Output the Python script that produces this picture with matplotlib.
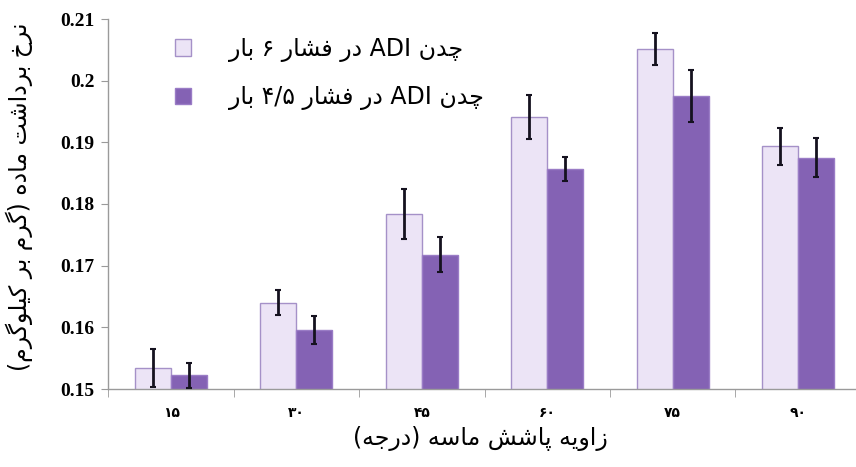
import numpy as np
import matplotlib.pyplot as plt
from matplotlib.patches import Patch

# angle categories (Persian digits) and measured rates
angles = ["۱۵", "۳۰", "۴۵", "۶۰", "۷۵", "۹۰"]
rate_6bar = [0.1534, 0.1640, 0.1784, 0.1941, 0.2052, 0.1894]
err_6bar = [0.0031, 0.0020, 0.0040, 0.0035, 0.0026, 0.0030]
rate_45bar = [0.1522, 0.1596, 0.1718, 0.1857, 0.1975, 0.1875]
err_45bar = [0.0020, 0.0023, 0.0028, 0.0020, 0.0042, 0.0032]
yticks = [0.15, 0.16, 0.17, 0.18, 0.19, 0.20, 0.21]

label_6bar = "چدن ADI در فشار ۶ بار"
label_45bar = "چدن ADI در فشار ۴/۵ بار"
ylabel = "نرخ برداشت ماده (گرم بر کیلوگرم)"
xlabel = "زاویه پاشش ماسه (درجه)"

# --- minimal Persian shaping (matplotlib has no bidi / shaping) ---
FORMS = {  # isolated, final, initial, medial
    "ا": (0xFE8D, 0xFE8E, None, None),
    "ب": (0xFE8F, 0xFE90, 0xFE91, 0xFE92),
    "پ": (0xFB56, 0xFB57, 0xFB58, 0xFB59),
    "ت": (0xFE95, 0xFE96, 0xFE97, 0xFE98),
    "ج": (0xFE9D, 0xFE9E, 0xFE9F, 0xFEA0),
    "چ": (0xFB7A, 0xFB7B, 0xFB7C, 0xFB7D),
    "خ": (0xFEA5, 0xFEA6, 0xFEA7, 0xFEA8),
    "د": (0xFEA9, 0xFEAA, None, None),
    "ر": (0xFEAD, 0xFEAE, None, None),
    "ز": (0xFEAF, 0xFEB0, None, None),
    "س": (0xFEB1, 0xFEB2, 0xFEB3, 0xFEB4),
    "ش": (0xFEB5, 0xFEB6, 0xFEB7, 0xFEB8),
    "ف": (0xFED1, 0xFED2, 0xFED3, 0xFED4),
    "ک": (0xFB8E, 0xFB8F, 0xFB90, 0xFB91),
    "گ": (0xFB92, 0xFB93, 0xFB94, 0xFB95),
    "ل": (0xFEDD, 0xFEDE, 0xFEDF, 0xFEE0),
    "م": (0xFEE1, 0xFEE2, 0xFEE3, 0xFEE4),
    "ن": (0xFEE5, 0xFEE6, 0xFEE7, 0xFEE8),
    "و": (0xFEED, 0xFEEE, None, None),
    "ه": (0xFEE9, 0xFEEA, 0xFEEB, 0xFEEC),
    "ی": (0xFBFC, 0xFBFD, 0xFBFE, 0xFBFF),
}
MIRROR = {"(": ")", ")": "("}


def shape_word(w):
    out = []
    for i, c in enumerate(w):
        if c not in FORMS:
            out.append(MIRROR.get(c, c))
            continue
        prev = w[i - 1] if i > 0 else None
        nxt = w[i + 1] if i + 1 < len(w) else None
        join_prev = prev in FORMS and FORMS[prev][2] is not None
        join_next = nxt in FORMS and FORMS[c][2] is not None
        f = FORMS[c]
        if join_prev and join_next:
            out.append(chr(f[3]))
        elif join_prev:
            out.append(chr(f[1]))
        elif join_next:
            out.append(chr(f[2]))
        else:
            out.append(chr(f[0]))
    return "".join(reversed(out))


def rtl(s):
    words = []
    for w in s.split(" "):
        if any(ch in FORMS for ch in w):
            words.append(shape_word(w))
        else:
            words.append(w)
    return " ".join(reversed(words))


ar_font = "DejaVu Sans"
light = "#ECE4F6"
light_edge = "#A591C8"
dark = "#8462B4"
dark_edge = "#9A7CC6"

fig = plt.figure(figsize=(8.56, 4.67), dpi=100)
ax = fig.add_axes([108.3 / 856, 1 - 389 / 467, 752.4 / 856, 370 / 467])

x = np.arange(len(angles))
w = 0.287
ax.bar(x - w / 2, rate_6bar, w, color=light, edgecolor=light_edge, linewidth=1.0, zorder=2)
ax.bar(x + w / 2, rate_45bar, w, color=dark, edgecolor=dark_edge, linewidth=1.0, zorder=2)
ax.errorbar(x - w / 2, rate_6bar, yerr=err_6bar, fmt="none", ecolor="#15121f",
            elinewidth=2, capsize=2.5, capthick=1.5, zorder=3)
ax.errorbar(x + w / 2, rate_45bar, yerr=err_45bar, fmt="none", ecolor="#15121f",
            elinewidth=2, capsize=2.5, capthick=1.5, zorder=3)

ax.set_xlim(-0.5, len(angles) - 0.5)
ax.set_ylim(0.15, 0.21)
ax.set_yticks(yticks)
ax.set_yticklabels(["%g" % v for v in yticks], family="Liberation Serif",
                   fontweight="bold", fontsize=14)

ax.set_xticks(x)
ax.set_xticklabels(angles, family=ar_font, fontweight="bold", fontsize=10)
ax.set_xticks(np.arange(len(angles) + 1) - 0.5, minor=True)
ax.tick_params(axis="x", which="major", length=0, pad=12)
ax.tick_params(axis="x", which="minor", length=6, color="#9a9a9a", direction="out")
ax.tick_params(axis="y", length=5, color="#9a9a9a", direction="out", pad=5)

for s in ["top", "right"]:
    ax.spines[s].set_visible(False)
for s in ["left", "bottom"]:
    ax.spines[s].set_color("#9a9a9a")
    ax.spines[s].set_linewidth(1.0)

ax.set_ylabel(rtl(ylabel), family=ar_font, fontsize=17)
ax.yaxis.set_label_coords(-0.1, 0.52)
ax.set_xlabel(rtl(xlabel), family=ar_font, fontsize=17)
ax.xaxis.set_label_coords(0.495, -0.1)

handles = [Patch(facecolor=light, edgecolor=light_edge), Patch(facecolor=dark, edgecolor=dark_edge)]
ax.legend(handles, [rtl(label_6bar), rtl(label_45bar)], loc="upper left",
          bbox_to_anchor=(0.06, 1.01), frameon=False,
          prop={"family": ar_font, "size": 17}, handlelength=0.7, handleheight=0.7,
          handletextpad=1.6, labelspacing=1.0)

fig.savefig("out.png", dpi=100)
